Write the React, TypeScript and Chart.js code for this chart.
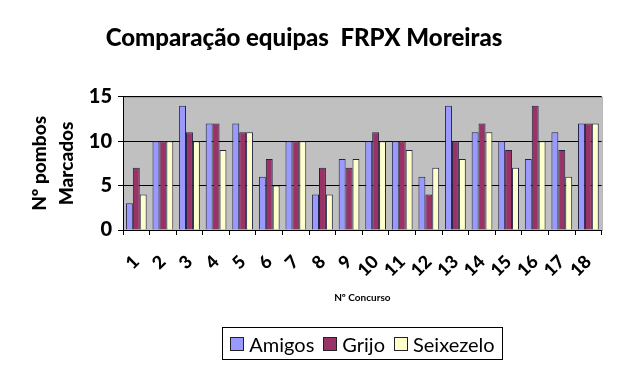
import React, { useEffect, useRef } from "react";
import { Chart, registerables } from "chart.js";

Chart.register(...registerables);

const categories = ["1","2","3","4","5","6","7","8","9","10","11","12","13","14","15","16","17","18"];
const amigos = [3,10,14,12,12,6,10,4,8,10,10,6,14,11,10,8,11,12];
const grijo = [7,10,11,12,11,8,10,7,7,11,10,4,10,12,9,14,9,12];
const seixezelo = [4,10,10,9,11,5,10,4,8,10,9,7,8,11,7,10,6,12];
const seriesNames = ["Amigos", "Grijo", "Seixezelo"];
const seriesColors = ["#9999FF", "#993366", "#FFFFCC"];
const yTicks = [0, 5, 10, 15];

const FONT = "Lato, 'Open Sans', sans-serif";

const bgPlugin = {
  id: "plotBg",
  beforeDraw(chart: any) {
    const { ctx, chartArea } = chart;
    ctx.save();
    ctx.fillStyle = "#C0C0C0";
    ctx.fillRect(chartArea.left, chartArea.top, chartArea.right - chartArea.left, chartArea.bottom - chartArea.top);
    ctx.strokeStyle = "#999999";
    ctx.lineWidth = 1;
    ctx.strokeRect(chartArea.left + 0.5, chartArea.top + 0.5, chartArea.right - chartArea.left, chartArea.bottom - chartArea.top);
    ctx.restore();
  },
};

export default function App() {
  const ref = useRef<HTMLCanvasElement>(null);
  useEffect(() => {
    if (!ref.current) return;
    const data = [amigos, grijo, seixezelo];
    const chart = new Chart(ref.current, {
      type: "bar",
      data: {
        labels: categories,
        datasets: seriesNames.map((n, i) => ({
          label: n,
          data: data[i],
          backgroundColor: seriesColors[i],
          borderColor: "#222244",
          borderWidth: 1,
          categoryPercentage: 0.78,
          barPercentage: 1,
        })),
      },
      plugins: [bgPlugin],
      options: {
        animation: false,
        responsive: false,
        maintainAspectRatio: false,
        layout: { padding: { left: 0, right: 12, top: 0, bottom: 61 } },
        plugins: {
          legend: { display: false },
          tooltip: { enabled: false },
          title: {
            display: true,
            text: "Comparação equipas  FRPX Moreiras",
            color: "#000",
            font: { family: FONT, size: 24, weight: "900" },
            padding: { top: 24, bottom: 44 },
          },
        },
        scales: {
          x: {
            grid: { drawOnChartArea: false, drawTicks: true, tickLength: 5, color: "#000", offset: true },
            border: { color: "#000" },
            ticks: {
              color: "#000",
              font: { family: FONT, size: 18, weight: "900" },
              maxRotation: 45,
              minRotation: 45,
              padding: 16,
              autoSkip: false,
            },
            title: {
              display: true,
              text: "Nº Concurso",
              color: "#000",
              font: { family: FONT, size: 10, weight: "bold" },
              padding: { top: 0, bottom: 6 },
            },
            afterFit(scale: any) { scale.height = 80; },
          },
          y: {
            min: 0,
            max: 15,
            afterBuildTicks(scale: any) { scale.ticks = yTicks.map((v) => ({ value: v })); },
            grid: { color: "#000", tickLength: 5, drawTicks: true },
            border: { color: "#000" },
            ticks: {
              color: "#000",
              font: { family: FONT, size: 20, weight: "900" },
              padding: 6,
            },
            title: {
              display: true,
              text: ["Nº pombos", "Marcados"],
              color: "#000",
              font: { family: FONT, size: 19, weight: "900", lineHeight: 1.45 },
              padding: { top: 26, bottom: 0 },
            },
            afterFit(scale: any) { scale.width = 123; },
          },
        },
      },
    });
    return () => chart.destroy();
  }, []);

  return (
    <div style={{ position: "fixed", left: 0, top: 0, width: 620, height: 371, background: "#fff" }}>
      <canvas ref={ref} width={620} height={371} style={{ position: "absolute", left: 0, top: 0 }} />
      <div
        style={{
          position: "absolute",
          left: 222,
          top: 327,
          width: 279,
          height: 31,
          border: "1px solid #000",
          display: "flex",
          alignItems: "center",
          justifyContent: "center",
          fontFamily: FONT,
          fontSize: 20,
          color: "#000",
          gap: 9,
          boxSizing: "content-box",
        }}
      >
        {seriesNames.map((n, i) => (
          <span key={n} style={{ display: "flex", alignItems: "center" }}>
            <span
              style={{
                display: "inline-block",
                width: 12,
                height: 12,
                background: seriesColors[i],
                border: "1px solid #222",
                marginRight: 5,
              }}
            />
            {n}
          </span>
        ))}
      </div>
    </div>
  );
}
